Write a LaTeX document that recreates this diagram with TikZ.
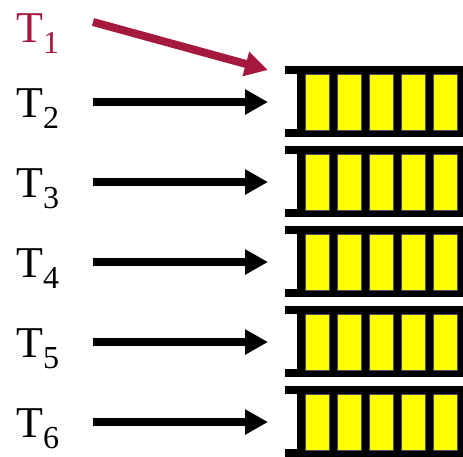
\documentclass[tikz,border=0pt]{standalone}
\usepackage{fontspec}
\setmainfont{Liberation Serif}
\usetikzlibrary{arrows.meta}
\definecolor{crim}{HTML}{A6193F}
\definecolor{cellyellow}{HTML}{FFFF00}
\tikzset{
  lbl/.style={anchor=base west, inner sep=0pt, font=\fontsize{44}{44}\selectfont},
  arr/.style={line width=8pt, -{Triangle[length=23pt,width=24pt]}},
  cell/.style={fill=cellyellow, draw=black!70, line width=0.4pt},
}
\newcommand{\tsub}[1]{T\raisebox{-11pt}{\fontsize{32}{32}\selectfont #1}}
\begin{document}
\begin{tikzpicture}[x=1pt,y=-1pt]
\useasboundingbox (0,0) rectangle (463,456);
% queues
\foreach \i in {0,...,4}{
  \pgfmathsetmacro{\yo}{66+80*\i}
  \fill[black] (297,\yo) rectangle (463,\yo+71);
  \fill[black] (285,\yo) rectangle (297,\yo+8);
  \fill[black] (285,\yo+63) rectangle (297,\yo+71);
  \foreach \j in {0,...,4}{
    \draw[cell] (305+32*\j,\yo+8) rectangle (329+32*\j,\yo+64);
  }
  \coordinate (q\i) at (268,\yo+36);
}
% labels
\node[lbl, text=crim] (t1) at (16,42) {\tsub{1}};
\foreach \k/\n in {0/2,1/3,2/4,3/5,4/6}{
  \node[lbl] (t\n) at (16,117+80*\k) {\tsub{\n}};
  \coordinate (s\n) at (93,102+80*\k);
}
\coordinate (s1) at (93,22);
\coordinate (e1) at (268,70);
% arrows
\draw[arr, crim] (s1) -- (e1);
\draw[arr] (s2) -- (q0);
\draw[arr] (s3) -- (q1);
\draw[arr] (s4) -- (q2);
\draw[arr] (s5) -- (q3);
\draw[arr] (s6) -- (q4);
\end{tikzpicture}
\end{document}
